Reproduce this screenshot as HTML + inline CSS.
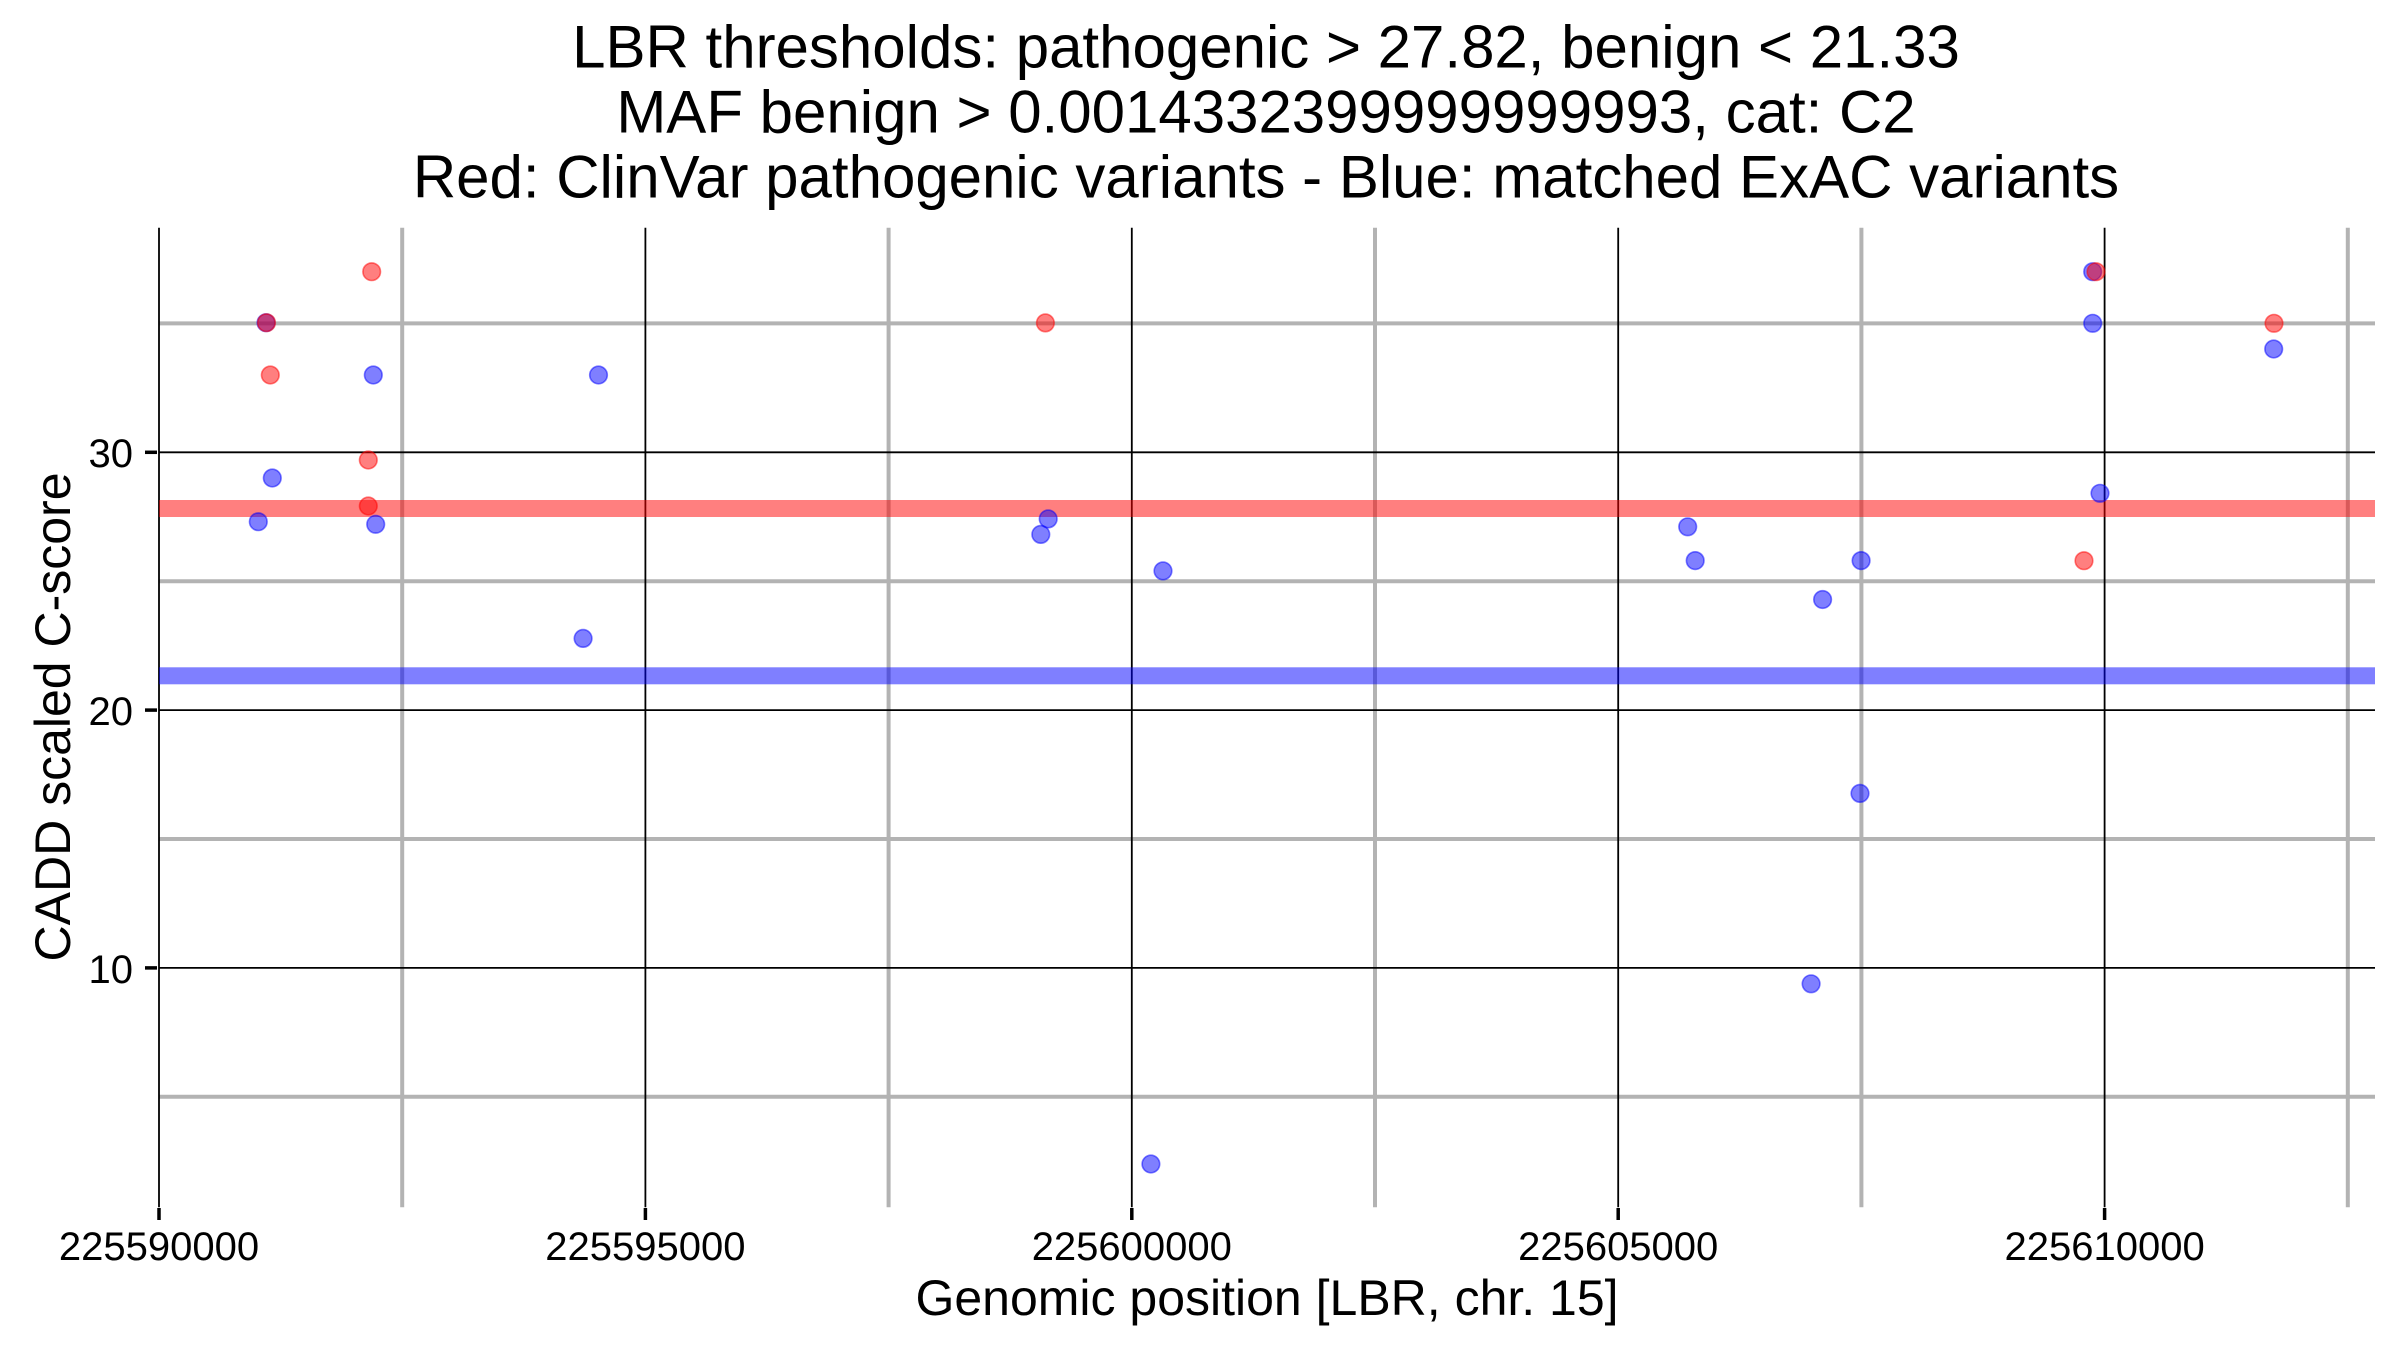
<!DOCTYPE html>
<html>
<head>
<meta charset="utf-8">
<style>
html,body{margin:0;padding:0;background:#fff;}
svg{display:block;}
text{font-family:"Liberation Sans",Arial,Helvetica,sans-serif;fill:#000;}
</style>
</head>
<body>
<svg width="2400" height="1350" viewBox="0 0 2400 1350" xmlns="http://www.w3.org/2000/svg">
<rect x="0" y="0" width="2400" height="1350" fill="#fff"/>

<!-- Title -->
<text x="1266" y="67.5" font-size="60" text-anchor="middle">LBR thresholds: pathogenic &gt; 27.82, benign &lt; 21.33</text>
<text x="1266" y="132.5" font-size="60" text-anchor="middle">MAF benign &gt; 0.0014332399999999993, cat: C2</text>
<text x="1266" y="197.5" font-size="60" text-anchor="middle">Red: ClinVar pathogenic variants - Blue: matched ExAC variants</text>

<!-- minor gridlines (grey) -->
<g stroke="#b3b3b3" stroke-width="4">
  <line x1="159" y1="323.4" x2="2375" y2="323.4"/>
  <line x1="159" y1="581.2" x2="2375" y2="581.2"/>
  <line x1="159" y1="839.0" x2="2375" y2="839.0"/>
  <line x1="159" y1="1096.8" x2="2375" y2="1096.8"/>
  <line x1="402.2" y1="227.7" x2="402.2" y2="1207.3"/>
  <line x1="888.6" y1="227.7" x2="888.6" y2="1207.3"/>
  <line x1="1375" y1="227.7" x2="1375" y2="1207.3"/>
  <line x1="1861.4" y1="227.7" x2="1861.4" y2="1207.3"/>
  <line x1="2347.8" y1="227.7" x2="2347.8" y2="1207.3"/>
</g>

<!-- major gridlines (black) -->
<g stroke="#000" stroke-width="1.8">
  <line x1="159" y1="452.3" x2="2375" y2="452.3"/>
  <line x1="159" y1="710.1" x2="2375" y2="710.1"/>
  <line x1="159" y1="967.9" x2="2375" y2="967.9"/>
  <line x1="159" y1="227.7" x2="159" y2="1207.3"/>
  <line x1="645.4" y1="227.7" x2="645.4" y2="1207.3"/>
  <line x1="1131.8" y1="227.7" x2="1131.8" y2="1207.3"/>
  <line x1="1618.2" y1="227.7" x2="1618.2" y2="1207.3"/>
  <line x1="2104.6" y1="227.7" x2="2104.6" y2="1207.3"/>
</g>

<!-- threshold bands -->
<rect x="159" y="500" width="2216" height="17" fill="#ff0000" fill-opacity="0.5"/>
<rect x="159" y="667.3" width="2216" height="17" fill="#0000ff" fill-opacity="0.5"/>

<!-- ticks -->
<g stroke="#000" stroke-width="3.5">
  <line x1="145" y1="452.3" x2="157" y2="452.3"/>
  <line x1="145" y1="710.1" x2="157" y2="710.1"/>
  <line x1="145" y1="967.9" x2="157" y2="967.9"/>
  <line x1="159" y1="1208" x2="159" y2="1220"/>
  <line x1="645.4" y1="1208" x2="645.4" y2="1220"/>
  <line x1="1131.8" y1="1208" x2="1131.8" y2="1220"/>
  <line x1="1618.2" y1="1208" x2="1618.2" y2="1220"/>
  <line x1="2104.6" y1="1208" x2="2104.6" y2="1220"/>
</g>

<!-- tick labels -->
<g font-size="40">
  <text x="133" y="467" text-anchor="end">30</text>
  <text x="133" y="725" text-anchor="end">20</text>
  <text x="133" y="983" text-anchor="end">10</text>
  <text x="159" y="1260" text-anchor="middle">225590000</text>
  <text x="645.4" y="1260" text-anchor="middle">225595000</text>
  <text x="1131.8" y="1260" text-anchor="middle">225600000</text>
  <text x="1618.2" y="1260" text-anchor="middle">225605000</text>
  <text x="2104.6" y="1260" text-anchor="middle">225610000</text>
</g>

<!-- axis labels -->
<text x="1267" y="1315" font-size="50" text-anchor="middle">Genomic position [LBR, chr. 15]</text>
<text transform="translate(70,717) rotate(-90)" font-size="50" text-anchor="middle">CADD scaled C-score</text>

<!-- blue points -->
<g fill="#0000ff" fill-opacity="0.5" stroke="#0000ff" stroke-opacity="0.5" stroke-width="1.6">
  <circle cx="266" cy="322.7" r="8.8"/>
  <circle cx="272.3" cy="478" r="8.8"/>
  <circle cx="258.3" cy="521.7" r="8.8"/>
  <circle cx="373.3" cy="375" r="8.8"/>
  <circle cx="375.7" cy="524.3" r="8.8"/>
  <circle cx="598.5" cy="375" r="8.8"/>
  <circle cx="583.1" cy="638.4" r="8.8"/>
  <circle cx="1048.2" cy="518.9" r="8.8"/>
  <circle cx="1040.8" cy="534.4" r="8.8"/>
  <circle cx="1163" cy="570.9" r="8.8"/>
  <circle cx="1150.9" cy="1164" r="8.8"/>
  <circle cx="1687.7" cy="526.8" r="8.8"/>
  <circle cx="1695.2" cy="560.6" r="8.8"/>
  <circle cx="1822.6" cy="599.5" r="8.8"/>
  <circle cx="1861.1" cy="560.6" r="8.8"/>
  <circle cx="1860" cy="793.4" r="8.8"/>
  <circle cx="1811.1" cy="983.8" r="8.8"/>
  <circle cx="2092.7" cy="271.7" r="8.8"/>
  <circle cx="2092.7" cy="323.3" r="8.8"/>
  <circle cx="2100" cy="493.3" r="8.8"/>
  <circle cx="2273.7" cy="349" r="8.8"/>
</g>

<!-- red points -->
<g fill="#ff0000" fill-opacity="0.5" stroke="#ff0000" stroke-opacity="0.5" stroke-width="1.6">
  <circle cx="266.5" cy="322.7" r="8.8"/>
  <circle cx="270.3" cy="375" r="8.8"/>
  <circle cx="371.7" cy="271.7" r="8.8"/>
  <circle cx="368.3" cy="460" r="8.8"/>
  <circle cx="368.3" cy="506" r="8.8"/>
  <circle cx="1045.4" cy="322.9" r="8.8"/>
  <circle cx="2096" cy="271.7" r="8.8"/>
  <circle cx="2084" cy="560.7" r="8.8"/>
  <circle cx="2274" cy="323.3" r="8.8"/>
</g>
</svg>
</body>
</html>
